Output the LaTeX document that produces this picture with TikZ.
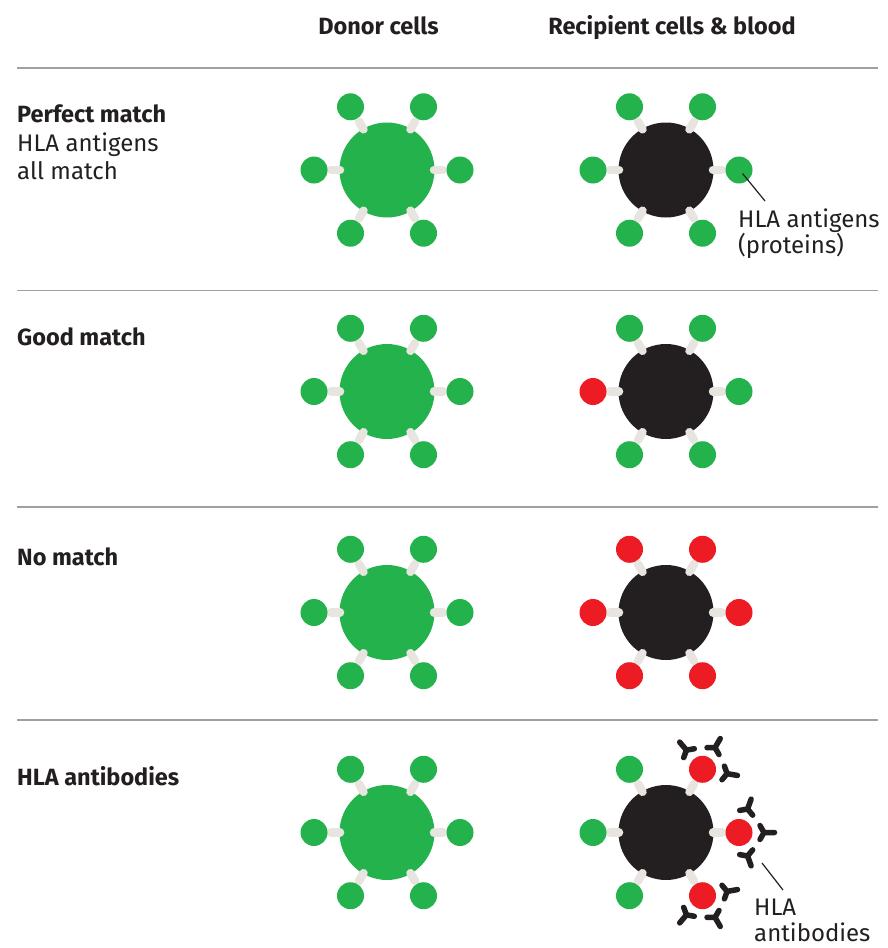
\documentclass[tikz,border=0pt]{standalone}
\usepackage{fontspec}
\setmainfont{Fira Sans}
\usetikzlibrary{positioning}
\definecolor{hlagreen}{RGB}{36,178,76}
\definecolor{hlared}{RGB}{237,28,36}
\definecolor{cellblack}{RGB}{35,31,32}
\definecolor{stalkgray}{RGB}{232,228,224}
\definecolor{rulegray}{RGB}{160,160,160}
\definecolor{ink}{RGB}{35,31,32}

\tikzset{
  cellbody/.style={circle,inner sep=0pt,minimum size=95pt},
  antigen/.style={circle,inner sep=0pt,minimum size=27pt},
  stalk/.style={draw=stalkgray,line width=8.5pt,line cap=round},
  abody/.style={draw=cellblack,line width=5.5pt,line cap=round},
  antibody/.pic={\draw[abody] (0,0) -- (0:10.5) (0,0) -- (120:8) (0,0) -- (240:8);},
  rowlabel/.style={anchor=base west,inner sep=0pt,text=ink,font=\fontsize{24}{28}\selectfont},
  boldlabel/.style={rowlabel,font=\fontsize{23.5}{28}\selectfont\bfseries},
  header/.style={anchor=base,inner sep=0pt,text=ink,font=\fontsize{23.5}{28}\selectfont\bfseries},
  sep/.style={draw=rulegray,line width=1.5pt},
  pointer/.style={draw=ink,line width=1.2pt}
}

% name, position, body colour, antigen colours from 0 deg counterclockwise
\newcommand{\hlacell}[4]{
  \node[cellbody,fill=#3] (#1) at (#2) {};
  \foreach \c [count=\i from 0] in {#4} {
    \pgfmathsetmacro\ang{60*\i}
    \coordinate (#1-p\i) at ([shift={(\ang:73)}]#1.center);
    \draw[stalk] ([shift={(\ang:47)}]#1.center) -- ([shift={(\ang:56)}]#1.center);
    \node[antigen,fill=\c] (#1-\i) at (#1-p\i) {};
  }
}
% antigen node, outward angle
\newcommand{\antibodies}[2]{
  \foreach \d in {-70,0,70} {
    \pgfmathsetmacro\b{#2+\d}
    \pic[rotate=\b] at ([shift={(\b:25)}]#1.center) {antibody};
  }
}

\begin{document}
\begin{tikzpicture}[x=1pt,y=1pt]
\useasboundingbox (0,0) rectangle (888,-948);

\node[header] (hdonor) at (378.5,-34) {Donor cells};
\node[header] (hrecip) at (672,-34) {Recipient cells \& blood};

\draw[sep] (17,-68) -- (878,-68);
\draw[sep] (17,-290.5) -- (878,-290.5);
\draw[sep] (17,-507) -- (878,-507);
\draw[sep] (17,-720) -- (878,-720);

% perfect match
\node[boldlabel] (lperfect) at (17,-122) {Perfect match};
\node[rowlabel] (lperfect2) at (17,-151) {HLA antigens};
\node[rowlabel] (lperfect3) at (17,-179) {all match};
\hlacell{r1d}{387,-170}{hlagreen}{hlagreen,hlagreen,hlagreen,hlagreen,hlagreen,hlagreen}
\hlacell{r1r}{666,-170}{cellblack}{hlagreen,hlagreen,hlagreen,hlagreen,hlagreen,hlagreen}
\coordinate (agtip) at (765,-201);
\draw[pointer] ([shift={(-45:5)}]r1r-0.center) -- (agtip);
\node[rowlabel] (lantigen) at (738,-227) {HLA antigens};
\node[rowlabel] (lantigen2) at (738,-253) {(proteins)};

% good match
\node[boldlabel] (lgood) at (17,-345) {Good match};
\hlacell{r2d}{387,-391.5}{hlagreen}{hlagreen,hlagreen,hlagreen,hlagreen,hlagreen,hlagreen}
\hlacell{r2r}{666,-391.5}{cellblack}{hlagreen,hlagreen,hlagreen,hlared,hlagreen,hlagreen}

% no match
\node[boldlabel] (lno) at (17,-565) {No match};
\hlacell{r3d}{387,-612.5}{hlagreen}{hlagreen,hlagreen,hlagreen,hlagreen,hlagreen,hlagreen}
\hlacell{r3r}{666,-612.5}{cellblack}{hlared,hlared,hlared,hlared,hlared,hlared}

% antibodies
\node[boldlabel] (lanti) at (17,-785) {HLA antibodies};
\hlacell{r4d}{387,-832.5}{hlagreen}{hlagreen,hlagreen,hlagreen,hlagreen,hlagreen,hlagreen}
\hlacell{r4r}{666,-832.5}{cellblack}{hlared,hlared,hlagreen,hlagreen,hlagreen,hlared}
\antibodies{r4r-0}{0}
\antibodies{r4r-1}{60}
\antibodies{r4r-5}{-60}
\coordinate (abstart) at (762,-863);
\coordinate (abtip) at (783,-890);
\draw[pointer] (abstart) -- (abtip);
\node[rowlabel] (lantibody) at (754,-915) {HLA};
\node[rowlabel] (lantibody2) at (754,-941) {antibodies};

\end{tikzpicture}
\end{document}
